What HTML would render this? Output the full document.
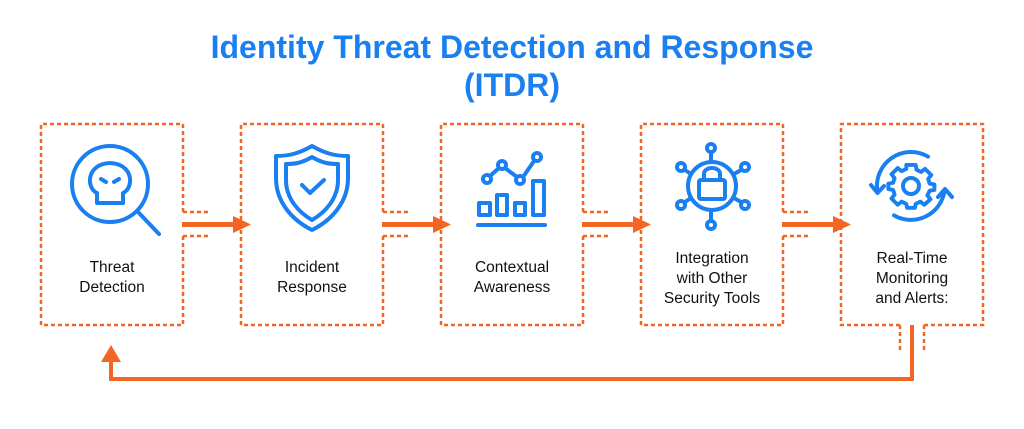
<!DOCTYPE html>
<html><head><meta charset="utf-8"><style>
body{margin:0;background:#fff;}
svg{display:block;}
text{font-family:"Liberation Sans",sans-serif;}
</style></head><body>
<svg width="1024" height="429" viewBox="0 0 1024 429" xmlns="http://www.w3.org/2000/svg">
<text x="512" y="58" text-anchor="middle" font-size="32" font-weight="bold" fill="#1a7ff0">Identity Threat Detection and Response</text>
<text x="512" y="96" text-anchor="middle" font-size="32" font-weight="bold" fill="#1a7ff0">(ITDR)</text>

<g fill="none" stroke="#f26522" stroke-width="2.5" stroke-dasharray="4 3">
  <path d="M183 212 V124 H41 V325 H183 V236"/>
  <path d="M383 212 V124 H241 V325 H383 V236"/>
  <path d="M583 212 V124 H441 V325 H583 V236"/>
  <path d="M783 212 V124 H641 V325 H783 V236"/>
  <path d="M900 325 H841 V124 H983 V325 H924"/>
  <path d="M183 212 H209 M183 236 H209"/>
  <path d="M383 212 H409 M383 236 H409"/>
  <path d="M583 212 H609 M583 236 H609"/>
  <path d="M783 212 H809 M783 236 H809"/>
  <path d="M900 325 V351 M924 325 V351"/>
</g>
<g fill="#f26522">
  <rect x="182" y="222" width="54" height="5"/><polygon points="233,216 251,224.5 233,233"/>
  <rect x="382" y="222" width="54" height="5"/><polygon points="433,216 451,224.5 433,233"/>
  <rect x="582" y="222" width="54" height="5"/><polygon points="633,216 651,224.5 633,233"/>
  <rect x="782" y="222" width="54" height="5"/><polygon points="833,216 851,224.5 833,233"/>
</g>
<path d="M912 325 V379 H111 V358" fill="none" stroke="#f26522" stroke-width="4"/>
<polygon points="101,362 111,345 121,362" fill="#f26522"/>

<g fill="none" stroke="#1a7ff0" stroke-width="4" stroke-linecap="round" stroke-linejoin="round">
  <circle cx="110" cy="184" r="38"/>
  <line x1="139" y1="213" x2="159" y2="234"/>
  <path d="M97 203 V193 C86 188 86 164 110 163 C134 164 134 188 123 193 V203 Z"/>
  <path d="M101 179 L106 182 M119 179 L114 182"/>
  <path d="M312 146 C298 154 288 156 276 156 V178 C276 202 292 220 312 230 C332 220 348 202 348 178 V156 C336 156 326 154 312 146 Z"/>
  <path d="M312 157 C302 163 295 164 286 164 V180 C286 198 298 212 312 220 C326 212 338 198 338 180 V164 C329 164 322 163 312 157 Z"/>
  <path d="M302 185 L310 193 L324 180"/>
  <circle cx="487" cy="179" r="4"/><circle cx="502" cy="165" r="4"/><circle cx="520" cy="180" r="4"/><circle cx="537" cy="157" r="4"/>
  <path d="M490 176 L499 168 M505 168 L517 177 M523 177 L534 161"/>
  <rect x="479" y="203" width="11" height="12"/><rect x="497" y="195" width="10" height="20"/><rect x="515" y="203" width="10" height="12"/><rect x="533" y="181" width="11" height="34"/>
  <line x1="478" y1="225" x2="545" y2="225"/>
  <circle cx="712" cy="186" r="24"/>
  <rect x="699" y="180" width="26" height="19" rx="2"/>
  <path d="M704 180 V174 C704 166 720 166 720 174 V180"/>
  <circle cx="711" cy="148" r="4"/><line x1="711" y1="152" x2="711" y2="162"/>
  <circle cx="711" cy="225" r="4"/><line x1="711" y1="210" x2="711" y2="221"/>
  <circle cx="681" cy="167" r="4"/><line x1="685" y1="170" x2="691" y2="174"/>
  <circle cx="745" cy="167" r="4"/><line x1="741" y1="170" x2="734" y2="174"/>
  <circle cx="681" cy="205" r="4"/><line x1="685" y1="202" x2="691" y2="198"/>
  <circle cx="745" cy="205" r="4"/><line x1="741" y1="202" x2="734" y2="198"/>
  <circle cx="911" cy="186" r="8"/>
  <path transform="translate(911 186) scale(0.78) translate(-911 -190)" stroke-width="5" d="M905 163 H917 L918 169 L924 172 L929 168 L937 176 L933 181 L935 187 L941 188 V195 L935 196 L932 202 L936 207 L928 214 L923 210 L917 213 L916 218 H906 L905 213 L899 210 L894 214 L886 206 L890 201 L888 195 L882 194 V187 L888 186 L890 180 L886 175 L894 167 L899 171 L905 168 Z"/>
  <path d="M877.5 192 A34 34 0 0 1 928 156.6"/>
  <path d="M871 185 L877.5 193 L884 186"/>
  <path d="M944.5 191 A34 34 0 0 1 894 215.4"/>
  <path d="M938 197 L945 189 L952 197"/>
</g>

<g font-size="15.5" fill="#111" text-anchor="middle">
  <text x="112" y="272">Threat</text><text x="112" y="292">Detection</text>
  <text x="312" y="272">Incident</text><text x="312" y="292">Response</text>
  <text x="512" y="272">Contextual</text><text x="512" y="292">Awareness</text>
  <text x="712" y="263">Integration</text><text x="712" y="283">with Other</text><text x="712" y="303">Security Tools</text>
  <text x="912" y="263">Real-Time</text><text x="912" y="283">Monitoring</text><text x="912" y="303">and Alerts:</text>
</g>
</svg>
</body></html>
